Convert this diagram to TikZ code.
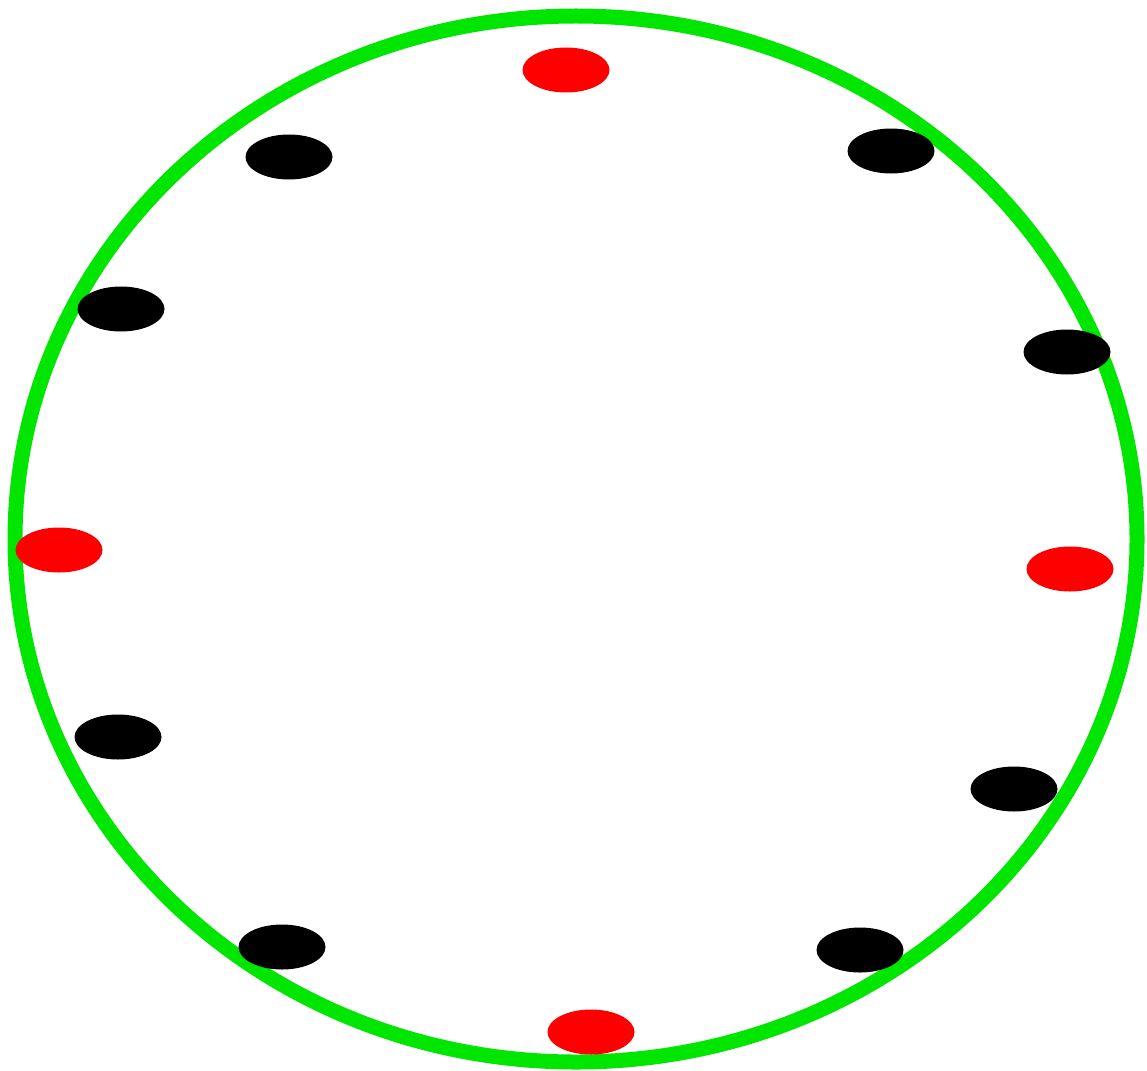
\documentclass[tikz,border=0pt]{standalone}
\definecolor{ringgreen}{RGB}{0,230,0}
\definecolor{dotred}{RGB}{255,0,0}
\tikzset{
  ring/.style={draw=ringgreen, line width=15pt},
  blackdot/.style={fill=black, ellipse, minimum width=87pt, minimum height=45pt, inner sep=0pt},
  reddot/.style={fill=dotred, ellipse, minimum width=87pt, minimum height=45pt, inner sep=0pt}
}
\usetikzlibrary{shapes.geometric}
\begin{document}
\begin{tikzpicture}[x=1pt,y=-1pt]
\useasboundingbox (0,0) rectangle (1147,1070);
\draw[ring] (576,539) ellipse [x radius=561, y radius=523];
\node[reddot] (d12) at (566,70) {};
\node[blackdot] (d1) at (891,151) {};
\node[blackdot] (d2) at (1067,352) {};
\node[reddot] (d3) at (1070,569) {};
\node[blackdot] (d4) at (1014,789) {};
\node[blackdot] (d5) at (860,950) {};
\node[reddot] (d6) at (591,1032) {};
\node[blackdot] (d7) at (282,947) {};
\node[blackdot] (d8) at (118,737) {};
\node[reddot] (d9) at (59,550) {};
\node[blackdot] (d10) at (121,309) {};
\node[blackdot] (d11) at (289,157) {};
\end{tikzpicture}
\end{document}
